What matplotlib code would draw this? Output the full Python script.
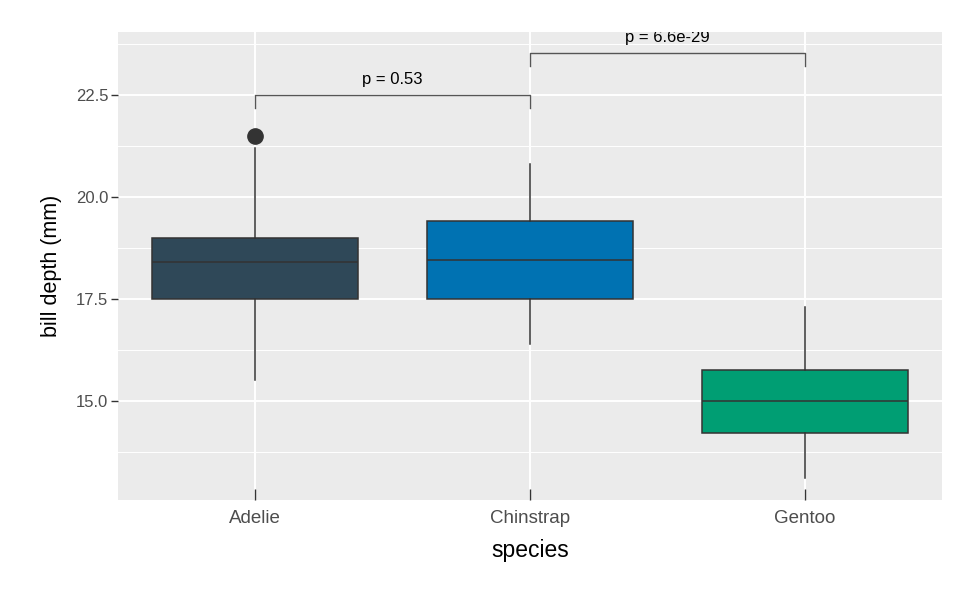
import numpy as np
import matplotlib.pyplot as plt
from matplotlib.ticker import FixedLocator, FormatStrFormatter

plt.rcParams['font.family'] = ['Liberation Sans', 'DejaVu Sans']

# ---------------- DATA ----------------
species = ["Adelie", "Chinstrap", "Gentoo"]
q1 = [17.5, 17.5, 14.2]
median = [18.4, 18.45, 15.0]
q3 = [19.0, 19.4, 15.75]
whisker_lo = [15.5, 16.4, 13.1]
whisker_hi = [21.2, 20.8, 17.3]
outliers = [[21.5], [], []]
colors = ["#2F4858", "#0072B2", "#009E73"]

# comparisons: (group a, group b, bracket height, label)
pairs = [(0, 1), (1, 2)]
bracket_y = [22.5, 23.53]
bracket_tip = 0.32
p_labels = ["p = 0.53", "p = 6.6e-29"]

# ---------------- FIGURE ----------------
fig = plt.figure(figsize=(9.75, 6), dpi=100)
ax = fig.add_axes([0.121, 0.1667, 0.845, 0.78])
ax.set_facecolor("#EBEBEB")

stats = []
for i, name in enumerate(species):
    stats.append(dict(label=name, q1=q1[i], med=median[i], q3=q3[i],
                      whislo=whisker_lo[i], whishi=whisker_hi[i], fliers=outliers[i]))

edge = "#333333"
bp = ax.bxp(stats, positions=range(len(species)), widths=0.75, patch_artist=True,
            showcaps=False,
            boxprops=dict(edgecolor=edge, linewidth=1.1),
            medianprops=dict(color=edge, linewidth=1.1),
            whiskerprops=dict(color=edge, linewidth=1.1),
            flierprops=dict(marker="o", markersize=11, markerfacecolor=edge,
                            markeredgecolor=edge))
for patch, c in zip(bp["boxes"], colors):
    patch.set_facecolor(c)
    patch.set_zorder(3)
for key in ["medians", "whiskers", "fliers"]:
    for ln in bp[key]:
        ln.set_zorder(4)

# brackets + p values
for (a, b), yb, lab in zip(pairs, bracket_y, p_labels):
    ax.plot([a, a, b, b], [yb - bracket_tip, yb, yb, yb - bracket_tip],
            color="#555555", linewidth=1.0, zorder=5)
    ax.text((a + b) / 2, yb + 0.2, lab, ha="center", va="bottom",
            fontsize=12, color="black", clip_on=True, zorder=5)

# ---------------- AXES ----------------
ax.set_xlim(-0.5, 2.5)
ax.set_ylim(12.57, 24.04)
ax.set_xticks(range(len(species)))
ax.set_xticklabels(species)
ax.yaxis.set_major_locator(FixedLocator([15.0, 17.5, 20.0, 22.5]))
ax.yaxis.set_minor_locator(FixedLocator([13.75, 16.25, 18.75, 21.25, 23.75]))
ax.yaxis.set_major_formatter(FormatStrFormatter("%.1f"))

ax.grid(which="major", color="white", linewidth=1.4, zorder=0)
ax.grid(which="minor", axis="y", color="white", linewidth=0.7, zorder=0)
ax.set_axisbelow(True)

for s in ax.spines.values():
    s.set_visible(False)

ax.tick_params(axis="y", which="major", direction="out", length=5, width=1,
               color="#333333", labelcolor="#4D4D4D", labelsize=12, pad=2)
ax.tick_params(axis="y", which="minor", length=0)
ax.tick_params(axis="x", direction="in", length=8, width=1,
               color="#333333", labelcolor="#4D4D4D", labelsize=13.5, pad=7)

ax.set_xlabel("species", fontsize=16.5, labelpad=9)
ax.set_ylabel("bill depth (mm)", fontsize=15.5, labelpad=10)

fig.savefig("out.png", dpi=100, facecolor="white")
